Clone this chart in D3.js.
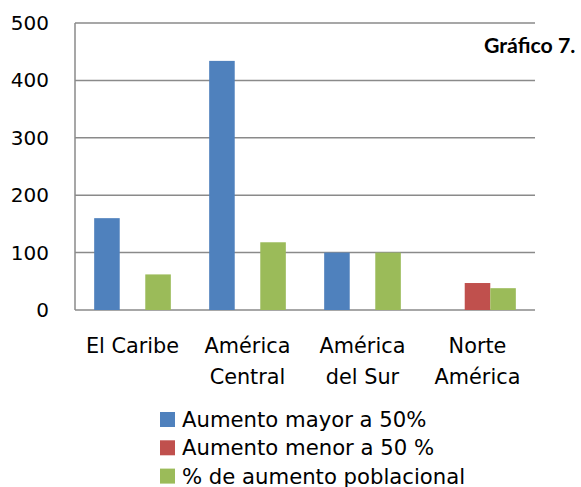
<!DOCTYPE html>
<html><head><meta charset="utf-8">
<script src="https://cdn.jsdelivr.net/npm/d3@7"></script>
<style>body{margin:0;background:#fff}</style>
</head><body>
<svg id="c" width="581" height="487"></svg>
<script>
const categories = [["El Caribe"], ["América","Central"], ["América","del Sur"], ["Norte","América"]];
const seriesNames = ["Aumento mayor a 50%", "Aumento menor a 50 %", "% de aumento poblacional"];
const seriesColors = ["#4F81BD", "#C0504D", "#9BBB59"];
const aumentoMayor = [160, 434, 100, 0];
const aumentoMenor = [0, 0, 0, 47];
const aumentoPoblacional = [62, 118, 100, 38];
const yTicks = [0, 100, 200, 300, 400, 500];
const title = "Gráfico 7.";

const series = [aumentoMayor, aumentoMenor, aumentoPoblacional];
const svg = d3.select("#c");
const pL = 75, pR = 535, pT = 23, pB = 310;
const catKeys = categories.map((c,i)=>i);
const x0 = d3.scaleBand().domain(catKeys).range([pL,pR]).paddingInner(1/3).paddingOuter(1/6);
const x1 = d3.scaleBand().domain([0,1,2]).range([0,x0.bandwidth()]);
const y = d3.scaleLinear().domain([0,500]).range([pB,pT]);
const font = "'DejaVu Sans', sans-serif";

// gridlines
svg.append("g").selectAll("line").data(yTicks).join("line")
  .attr("x1",pL).attr("x2",pR)
  .attr("y1",d=>y(d)).attr("y2",d=>y(d))
  .attr("stroke","#8a8a8a").attr("stroke-width",1.5);
// left axis
svg.append("line").attr("x1",pL).attr("x2",pL).attr("y1",pT).attr("y2",pB)
  .attr("stroke","#8a8a8a").attr("stroke-width",1.5);

// y labels
const yAxis = d3.axisLeft(y).tickValues(yTicks).tickSize(0).tickPadding(26);
const ga = svg.append("g").attr("transform",`translate(${pL},0)`).call(yAxis);
ga.select(".domain").remove();
ga.selectAll("text").attr("font-family",font).attr("font-size",20).attr("fill","#000");

// bars
series.forEach((vals,si)=>{
  svg.append("g").selectAll("rect").data(vals).join("rect")
    .attr("x",(d,i)=>x0(i)+x1(si))
    .attr("width",x1.bandwidth())
    .attr("y",d=>y(d))
    .attr("height",d=>y(0)-y(d))
    .attr("fill",seriesColors[si]);
});

// x labels
categories.forEach((lines,i)=>{
  const t = svg.append("text").attr("text-anchor","middle")
    .attr("font-family",font).attr("font-size",20.8).attr("fill","#000");
  lines.forEach((l,j)=>{
    t.append("tspan").attr("x",x0(i)+x0.bandwidth()/2).attr("y",353+j*31).text(l);
  });
});

// title
svg.append("text").attr("x",484).attr("y",53).attr("font-family","Lato, sans-serif")
  .attr("font-weight","bold").attr("font-size",21.3).attr("fill","#000").text(title);

// legend
const lg = svg.append("g");
seriesNames.forEach((n,i)=>{
  const by = 427 + i*28.3;
  lg.append("rect").attr("x",160).attr("y",by-15).attr("width",15).attr("height",15).attr("fill",seriesColors[i]);
  lg.append("text").attr("x",182).attr("y",by).attr("font-family",font).attr("font-size",21.2)
    .attr("fill","#000").text(n);
});
</script>
</body></html>
